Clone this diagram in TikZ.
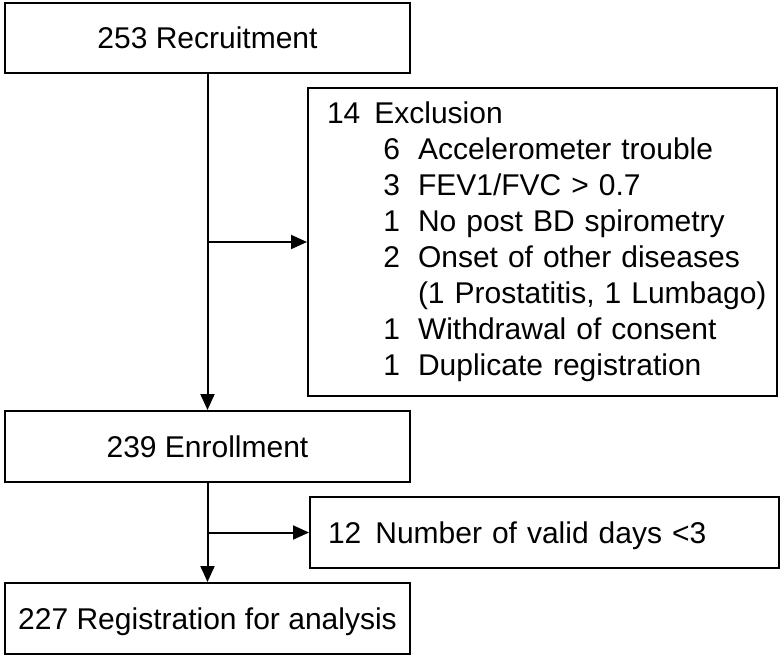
\documentclass[tikz,border=0pt]{standalone}
\usepackage{fontspec}
\setmainfont{Liberation Sans}
\usetikzlibrary{positioning}
\usetikzlibrary{arrows.meta}

\tikzset{
  box/.style={draw, line width=2pt, rectangle, inner sep=0pt, font=\fontsize{30}{36}\selectfont},
  oneline/.style={text height=21.5pt, text depth=0pt},
  flow/.style={line width=2pt, -{Triangle[length=16pt,width=14pt]}},
}

\begin{document}
\begin{tikzpicture}[x=1pt,y=-1pt]
\useasboundingbox (0,0) rectangle (784,657);
\newcommand\ExRow[2]{\makebox[431pt][l]{\hspace*{57pt}\makebox[16pt][r]{#1}\hspace{18pt}#2}}

\node [box, oneline, minimum width=405, minimum height=70] (rec) at (207.5,38) {253 Recruitment};
\node [box, minimum width=469, minimum height=308, text width=431, inner xsep=19pt, align=left] (excl) at (542.5,242)
  {14\hspace{14pt}Exclusion\\
   \ExRow{6}{Accelerometer trouble}\\
   \ExRow{3}{FEV1/FVC > 0.7}\\
   \ExRow{1}{No post BD spirometry}\\
   \ExRow{2}{Onset of other diseases}\\
   \ExRow{}{(1 Prostatitis, 1 Lumbago)}\\
   \ExRow{1}{Withdrawal of consent}\\
   \ExRow{1}{Duplicate registration}};
\node [box, oneline, minimum width=405, minimum height=71] (enr) at (207.5,446.5) {239 Enrollment};
\node [box, oneline, minimum height=71, text width=433, inner xsep=18pt, align=left] (valid) at (544.5,532.5)
  {12\hspace{14pt}Number of valid days <3};
\node [box, oneline, minimum width=405, minimum height=71] (reg) at (207.5,618.5) {227 Registration for analysis};

\coordinate (b1) at (rec.south |- excl.west);
\coordinate (b2) at (enr.south |- valid.west);

\draw [flow] (rec.south) -- (enr.north);
\draw [flow] (b1) -- (excl.west);
\draw [flow] (enr.south) -- (reg.north);
\draw [flow] (b2) -- (valid.west);
\end{tikzpicture}
\end{document}
